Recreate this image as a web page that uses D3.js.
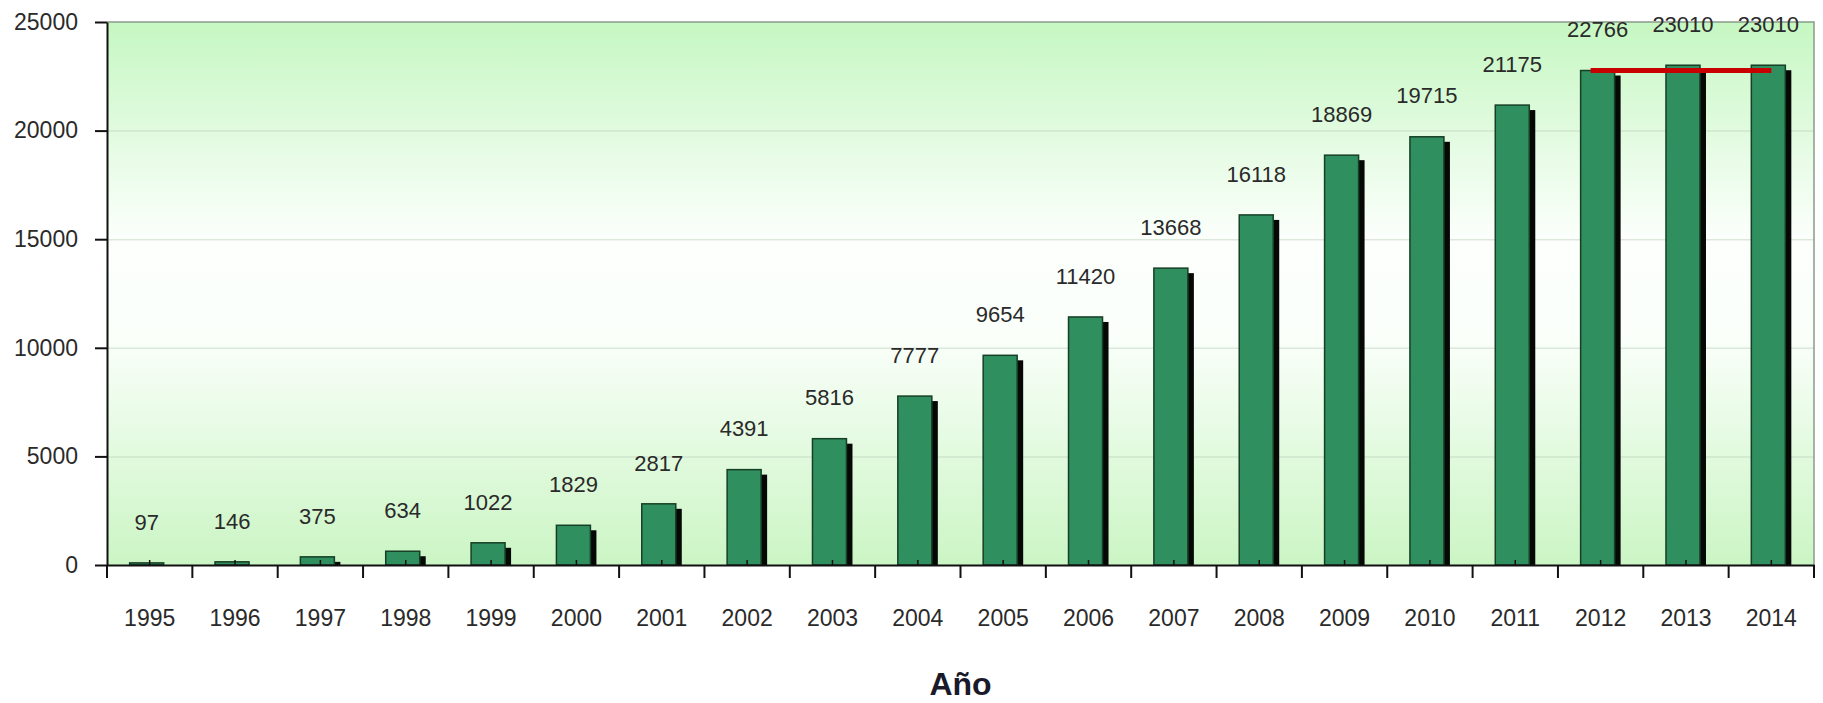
<!DOCTYPE html>
<html>
<head>
<meta charset="utf-8">
<script src="https://cdn.jsdelivr.net/npm/d3@7"></script>
<style>
  html, body { margin: 0; padding: 0; background: #ffffff; }
  svg { display: block; }
  text { font-family: Arial, "Liberation Sans", sans-serif; }
</style>
</head>
<body>
<svg id="chart" width="1823" height="703"></svg>
<script>
// Yearly totals, 1995-2014
const years = ["1995","1996","1997","1998","1999","2000","2001","2002","2003","2004",
               "2005","2006","2007","2008","2009","2010","2011","2012","2013","2014"];
const totals = [97, 146, 375, 634, 1022, 1829, 2817, 4391, 5816, 7777,
                9654, 11420, 13668, 16118, 18869, 19715, 21175, 22766, 23010, 23010];
const yTicks = [0, 5000, 10000, 15000, 20000, 25000];
// Plateau reference from 2012 to 2014
const plateauYears = ["2012", "2014"];
const plateauValue = 22766;
const xTitle = "Año";

const svg = d3.select("#chart");
const plotLeft = 107, plotRight = 1814, plotTop = 22, plotBottom = 565;

const x = d3.scaleBand().domain(years).range([plotLeft, plotRight]).padding(0);
const y = d3.scaleLinear().domain([0, 25000]).range([plotBottom, plotTop]);
const bw = x.bandwidth();

// Plot background gradient
const defs = svg.append("defs");
const grad = defs.append("linearGradient").attr("id", "plotBg")
  .attr("x1", 0).attr("y1", 0).attr("x2", 0).attr("y2", 1);
grad.append("stop").attr("offset", "0%").attr("stop-color", "#c6f7c2");
grad.append("stop").attr("offset", "40%").attr("stop-color", "#fcfffc");
grad.append("stop").attr("offset", "58%").attr("stop-color", "#fafffa");
grad.append("stop").attr("offset", "100%").attr("stop-color", "#cbf5c4");

svg.append("rect")
  .attr("x", plotLeft).attr("y", plotTop)
  .attr("width", plotRight - plotLeft).attr("height", plotBottom - plotTop)
  .attr("fill", "url(#plotBg)");

// Horizontal gridlines
svg.append("g")
  .attr("transform", `translate(${plotLeft},0)`)
  .call(d3.axisLeft(y).tickValues(yTicks.slice(1, -1)).tickSize(-(plotRight - plotLeft)).tickFormat(""))
  .call(g => g.select(".domain").remove())
  .call(g => g.selectAll("line").attr("stroke", "#b9cdb9").attr("stroke-opacity", 0.45).attr("stroke-width", 1.5));

// Plot border (top and right)
svg.append("path")
  .attr("d", `M${plotLeft},${plotTop}H${plotRight}V${plotBottom}`)
  .attr("fill", "none").attr("stroke", "#8a9a8a").attr("stroke-width", 1.5);

// Bar shadows
const shadowDx = 6, shadowDy = 5, barW = 34;
const barX = d => x(d.year) + bw / 2 - (barW + shadowDx) / 2;
const data = years.map((yr, i) => ({ year: yr, value: totals[i] }));

svg.append("g").selectAll("rect").data(data).join("rect")
  .attr("x", d => barX(d) + shadowDx)
  .attr("y", d => Math.min(y(d.value) + shadowDy, plotBottom))
  .attr("width", barW)
  .attr("height", d => Math.max(0, plotBottom - Math.min(y(d.value) + shadowDy, plotBottom)))
  .attr("fill", "#050805");

// Bars
svg.append("g").selectAll("rect").data(data).join("rect")
  .attr("x", d => barX(d))
  .attr("y", d => y(d.value))
  .attr("width", barW)
  .attr("height", d => plotBottom - y(d.value))
  .attr("fill", "#2f8f5e")
  .attr("stroke", "#173f26")
  .attr("stroke-width", 1.5);

// Small inner marks at category centres
svg.append("g").selectAll("line").data(years).join("line")
  .attr("x1", d => x(d) + bw / 2).attr("x2", d => x(d) + bw / 2)
  .attr("y1", plotBottom).attr("y2", plotBottom - 5)
  .attr("stroke", "#111").attr("stroke-width", 1.5);

// Value labels
svg.append("g").selectAll("text").data(data).join("text")
  .attr("x", d => barX(d) + barW / 2)
  .attr("y", d => y(d.value) - 41)
  .attr("dy", "0.35em")
  .attr("text-anchor", "middle")
  .attr("font-size", 22)
  .attr("fill", "#2a2a2a")
  .text(d => d.value);

// Plateau line
svg.append("line")
  .attr("x1", x(plateauYears[0]) + bw / 2 - 10)
  .attr("x2", x(plateauYears[1]) + bw / 2)
  .attr("y1", y(plateauValue)).attr("y2", y(plateauValue))
  .attr("stroke", "#c80000").attr("stroke-width", 5);

// Y axis
svg.append("g")
  .attr("transform", `translate(${plotLeft},0)`)
  .call(d3.axisLeft(y).tickValues(yTicks).tickFormat(d3.format("d"))
    .tickSize(12).tickPadding(17).tickSizeOuter(0))
  .call(g => g.select(".domain").attr("stroke", "#111").attr("stroke-width", 2))
  .call(g => g.selectAll(".tick line").attr("stroke", "#111").attr("stroke-width", 2))
  .call(g => g.selectAll("text").attr("font-size", 23).attr("fill", "#2a2a2a")
    .attr("font-family", "Arial, 'Liberation Sans', sans-serif"));

// X axis labels
svg.append("g")
  .attr("transform", `translate(0,${plotBottom})`)
  .call(d3.axisBottom(x).tickSize(0).tickPadding(45).tickSizeOuter(0))
  .call(g => g.select(".domain").attr("stroke", "#111").attr("stroke-width", 2))
  .call(g => g.selectAll("text").attr("font-size", 23).attr("fill", "#2a2a2a")
    .attr("font-family", "Arial, 'Liberation Sans', sans-serif"));

// X axis ticks at category boundaries
const bounds = years.map(d => x(d)).concat([plotRight]);
svg.append("g").selectAll("line").data(bounds).join("line")
  .attr("x1", d => d).attr("x2", d => d)
  .attr("y1", plotBottom).attr("y2", plotBottom + 13)
  .attr("stroke", "#111").attr("stroke-width", 2);

// Axis title
svg.append("text")
  .attr("x", (plotLeft + plotRight) / 2)
  .attr("y", 695)
  .attr("text-anchor", "middle")
  .attr("font-size", 32)
  .attr("font-weight", "bold")
  .attr("fill", "#1a1a2a")
  .text(xTitle);
</script>
</body>
</html>
